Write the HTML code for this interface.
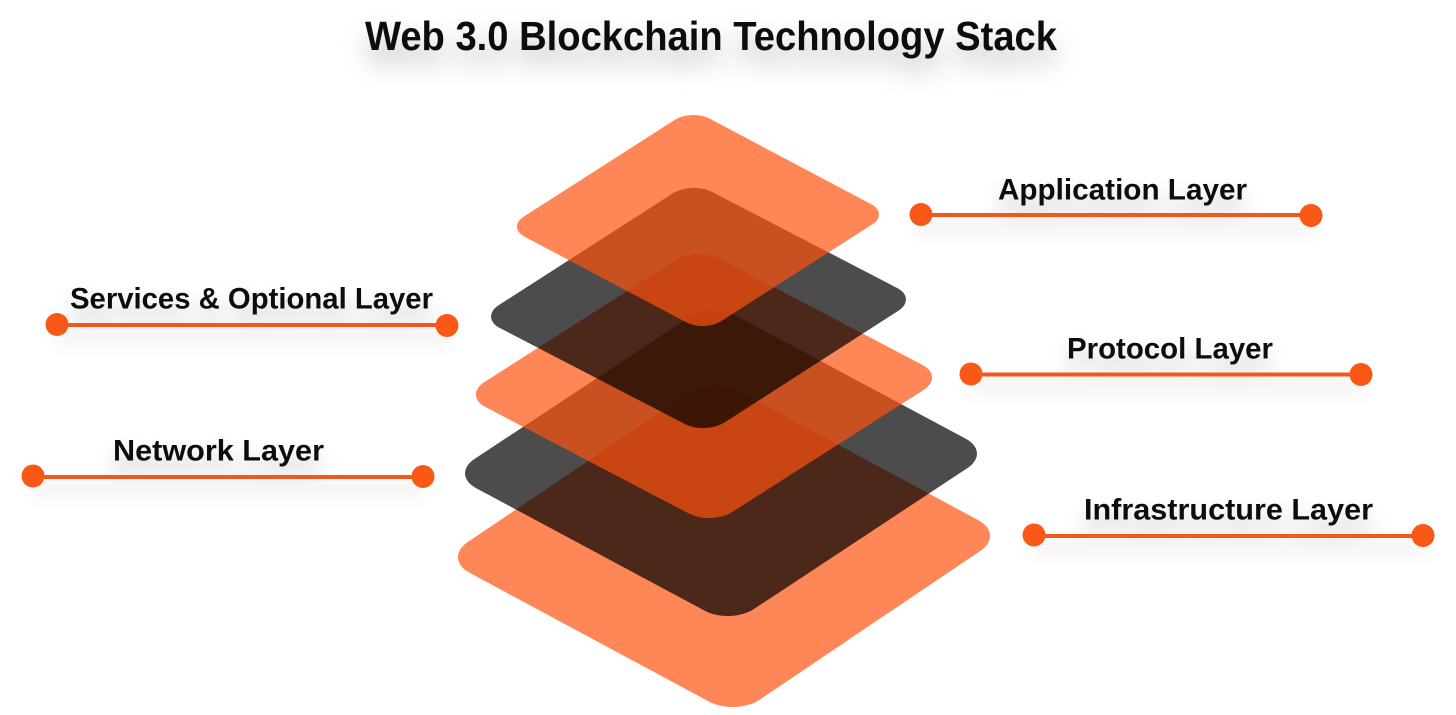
<!DOCTYPE html>
<html><head><meta charset="utf-8"><style>
html,body{margin:0;padding:0;background:#fff;width:1456px;height:715px;overflow:hidden}
svg{display:block}
text{font-family:"Liberation Sans",sans-serif;font-weight:700;fill:#0a0a0a}
</style></head><body>
<svg width="1456" height="715" viewBox="0 0 1456 715" xmlns="http://www.w3.org/2000/svg">
<defs>
<filter id="s" x="-20%" y="-100%" width="140%" height="350%"><feDropShadow dx="0" dy="12" stdDeviation="9" flood-color="#000" flood-opacity=".2"/></filter>
<filter id="t" x="-10%" y="-100%" width="120%" height="350%"><feDropShadow dx="0" dy="15" stdDeviation="12" flood-color="#000" flood-opacity=".25"/></filter>
</defs>
<rect width="1456" height="715" fill="#fff"/>
<g>
<rect width="1" height="1" rx=".09" fill="#ff5210" fill-opacity=".7" transform="matrix(292.4 157.3 -269.2 181.5 712.4 377.1)"/>
<rect width="1" height="1" rx=".09" fill="#000" fill-opacity=".7" transform="matrix(279.7 149.9 -260.7 172.1 711.5 302.5)"/>
<rect width="1" height="1" rx=".09" fill="#ff5210" fill-opacity=".7" transform="matrix(248.1 129.8 -233.3 148.8 696.6 246.7)"/>
<rect width="1" height="1" rx=".09" fill="#000" fill-opacity=".7" transform="matrix(225.9 117.2 -212.1 136.2 691.6 181.3)"/>
<rect width="1" height="1" rx=".09" fill="#ff5210" fill-opacity=".7" transform="matrix(197.5 104.5 -184.7 118.3 691.6 109.1)"/>
</g>
<text x="365" y="50" font-size="41" textLength="692" lengthAdjust="spacingAndGlyphs" filter="url(#t)">Web 3.0 Blockchain Technology Stack</text>
<g filter="url(#s)">
<text x="998" y="199.500" font-size="30" textLength="249" lengthAdjust="spacingAndGlyphs">Application Layer</text>
<rect x="921" y="213" width="390" height="4" fill="#f2591c"/>
</g>
<g filter="url(#s)">
<text x="1067" y="358.500" font-size="30" textLength="206" lengthAdjust="spacingAndGlyphs">Protocol Layer</text>
<rect x="971" y="372.500" width="390" height="4" fill="#f2591c"/>
</g>
<g filter="url(#s)">
<text x="1084" y="519.500" font-size="30" textLength="289" lengthAdjust="spacingAndGlyphs">Infrastructure Layer</text>
<rect x="1034" y="534" width="389" height="4" fill="#f2591c"/>
</g>
<g filter="url(#s)">
<text x="70" y="308.500" font-size="30" textLength="363" lengthAdjust="spacingAndGlyphs">Services &amp; Optional Layer</text>
<rect x="57" y="323" width="390" height="4" fill="#f2591c"/>
</g>
<g filter="url(#s)">
<text x="113" y="460.500" font-size="30" textLength="211" lengthAdjust="spacingAndGlyphs">Network Layer</text>
<rect x="33" y="475" width="390" height="4" fill="#f2591c"/>
</g>
<g fill="#f95817">
<circle cx="921" cy="214.500" r="11.500"/><circle cx="1311" cy="215.500" r="11.500"/>
<circle cx="971" cy="374" r="11.500"/><circle cx="1361" cy="374.500" r="11.500"/>
<circle cx="1034" cy="535" r="11.500"/><circle cx="1423" cy="535.500" r="11.500"/>
<circle cx="57" cy="324.500" r="11.500"/><circle cx="447" cy="325.500" r="11.500"/>
<circle cx="33" cy="476" r="11.500"/><circle cx="423" cy="476.500" r="11.500"/>
</g>
</svg>
</body></html>
